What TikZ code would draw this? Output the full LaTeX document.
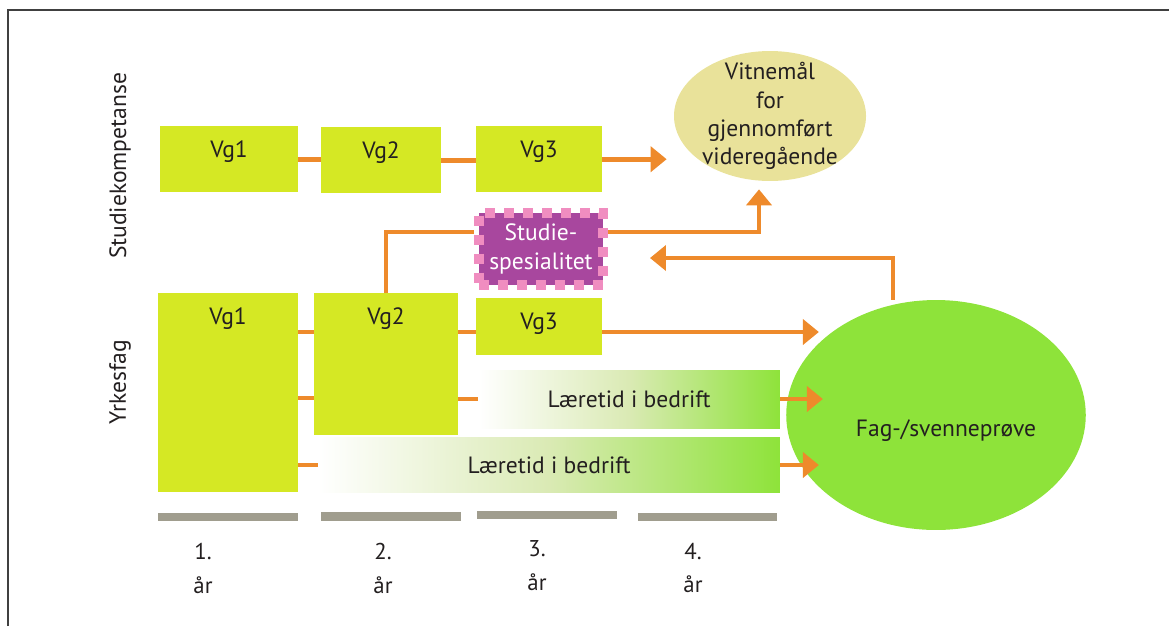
\documentclass[tikz,border=0pt]{standalone}
\usepackage{fontspec}
\setmainfont{PT Sans}
\usetikzlibrary{calc,arrows.meta,shapes.geometric}

\definecolor{vggreen}{HTML}{D5E824}
\definecolor{fagreen}{HTML}{8EE33A}
\definecolor{laeremid}{RGB}{218,234,180}
\definecolor{vitgul}{HTML}{E9E29A}
\definecolor{pilorange}{HTML}{EE8A2B}
\definecolor{spespurple}{HTML}{A8479E}
\definecolor{spespink}{HTML}{F08DC0}
\definecolor{aargray}{HTML}{A09D8E}
\definecolor{tekst}{HTML}{231F20}
\definecolor{rammegray}{HTML}{404040}

\begin{document}
\begin{tikzpicture}[x=0.02cm,y=-0.02cm,
		every node/.style={font=\fontsize{13.4}{16}\selectfont, text=tekst},
		vgbox/.style 2 args={fill=vggreen, inner sep=0pt, minimum width=#1, text height=17.5pt, text depth=#2, anchor=north},
		laerebox/.style={left color=white, right color=fagreen, middle color=laeremid, inner sep=0pt},
		conn/.style={draw=pilorange, line width=2.8pt},
		arr/.style={conn, -{Triangle[length=0.32cm,width=0.5cm]}},
		aartekst/.style={align=center, font=\fontsize{13}{19.3}\selectfont}]
		
		\useasboundingbox (0,0) rectangle (1169,626);
		\draw[rammegray, line width=1.2pt] (8,626) -- (8,10) -- (1169,10);
		
		\node[rotate=90] (studkomp) at (120,166) {Studiekompetanse};
		\node[rotate=90] (yrkesfag) at (120,382) {Yrkesfag};
		
		% studiekompetanse
		\node[vgbox={2.76cm}{19.9pt}] (sk1) at (229,126) {Vg1};
		\node[vgbox={2.4cm}{19.9pt}] (sk2) at (381,127) {Vg2};
		\node[vgbox={2.52cm}{19.9pt}] (sk3) at (539,126) {Vg3};
		
		\node[ellipse, fill=vitgul, minimum width=3.8cm, minimum height=2.6cm, inner xsep=0pt, inner ysep=-14pt, align=center] (vitnemal) at (770,116) {Vitnemål\\for\\gjennomført\\videregående};
		
		\node[fill=spespurple, draw=spespink, line width=5.7pt, dash pattern=on 5.7pt off 5.1pt, minimum width=2.48cm, minimum height=1.44cm, inner sep=0pt, align=center, text=white] (studspes) at (541,249) {Studie-\\spesialitet};
		
		% yrkesfag
		\node[vgbox={2.8cm}{95.3pt}] (yf1) at (228,293) {Vg1};
		\node[vgbox={2.88cm}{63pt}] (yf2) at (386,293) {Vg2};
		\node[vgbox={2.52cm}{14.8pt}] (yf3) at (539,298) {Vg3};
		
		\node[laerebox, minimum width=6.04cm, minimum height=1.16cm] (laere1) at (629,399) {Læretid i bedrift};
		\node[laerebox, minimum width=9.24cm, minimum height=1.1cm] (laere2) at (549,465) {Læretid i bedrift};
		
		\node[ellipse, fill=fagreen, minimum width=5.88cm, minimum height=4.6cm, text height=27pt, text depth=3pt] (fagprove) at (936,415) {\hspace{0.4cm}Fag-/svenneprøve};
		
		\coordinate (row1) at (0,332);
		\coordinate (row2) at (0,398);
		
		% piler
		\draw[conn] (sk1.east) -- (sk1.east -| sk2.west);
		\draw[conn] (sk2.east) -- (sk2.east -| sk3.west);
		\draw[arr, shorten >=0.14cm] (sk3.east) -- (sk3.east -| vitnemal.west);
		
		\draw[conn] (yf2.north) |- ([yshift=0.34cm]studspes.west);
		\draw[arr, shorten >=0.16cm] ([yshift=0.34cm]studspes.east) -| ([xshift=-0.22cm]vitnemal.south);
		\draw[arr, shorten >=0.84cm] ([xshift=-0.86cm]fagprove.north) |- ([yshift=-0.18cm]studspes.east);
		
		\draw[conn] (yf1.east |- row1) -- (yf2.west |- row1);
		\draw[conn] (yf1.east |- row2) -- (yf2.west |- row2);
		\draw[conn] (yf1.east |- laere2.west) -- (laere2.west);
		\draw[conn] (yf2.east |- row1) -- (yf3.west |- row1);
		\draw[conn] (yf2.east |- laere1.west) -- (laere1.west);
		
		\draw[arr] (yf3.east |- row1) -- ($(fagprove.west |- row1)+(33,0)$);
		\draw[arr] (laere1.east) -- ($(fagprove.west |- laere1.east)+(37,0)$);
		\draw[arr] (laere2.east) -- ($(fagprove.west |- laere2.east)+(33,0)$);
		
		% år
		\fill[aargray] (158,513) rectangle (298,521);
		\fill[aargray] (321,512) rectangle (461,521);
		\fill[aargray] (477,511) rectangle (617,519);
		\fill[aargray] (638,513) rectangle (777,521);
		
		\node[aartekst] (aar1) at (203,568) {1.\\år};
		\node[aartekst] (aar2) at (383,568) {2.\\år};
		\node[aartekst] (aar3) at (537,566) {3.\\år};
		\node[aartekst] (aar4) at (693,568) {4.\\år};
		
	\end{tikzpicture}
\end{document}
